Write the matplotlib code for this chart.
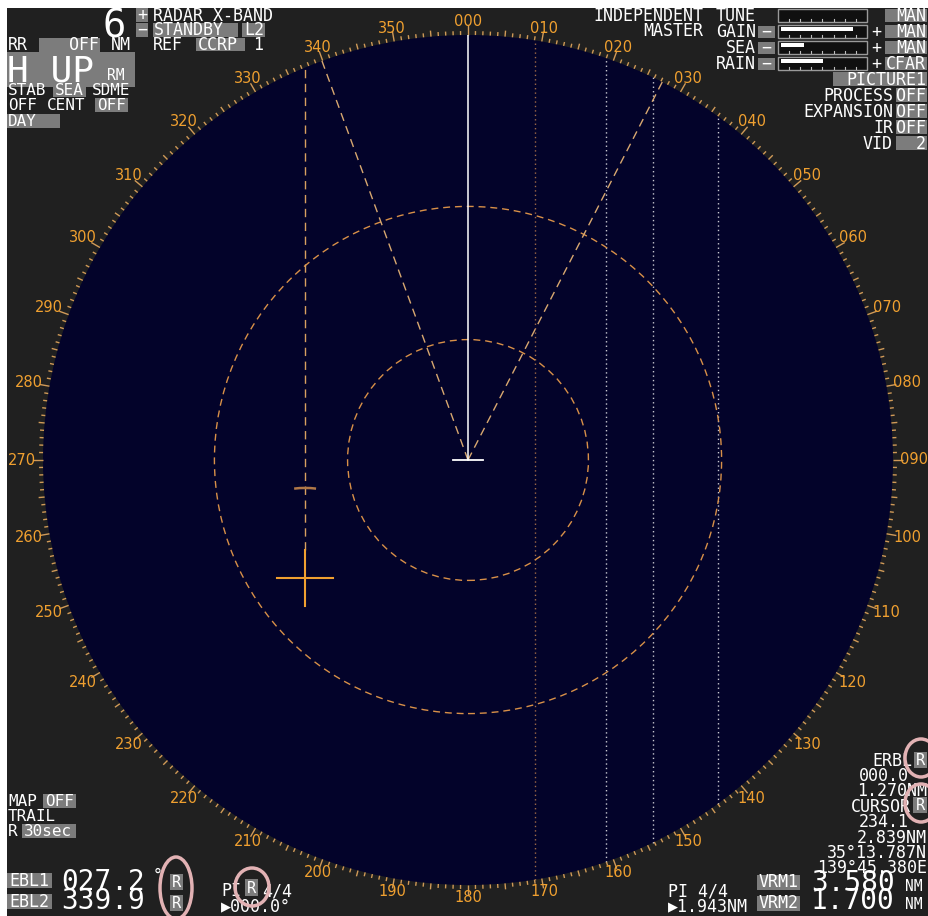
import numpy as np
import matplotlib
matplotlib.use("Agg")
import matplotlib.pyplot as plt
from matplotlib.patches import Rectangle, Circle, Ellipse, Arc
from matplotlib.collections import LineCollection

# ---------------- data ----------------
RANGE_NM = 6.0
heading_deg = 0.0
ebl_deg = [27.2, 339.9]
vrm_nm = [3.580, 1.700]
cursor_brg, cursor_rng = 234.1, 2.839
erbl_brg, erbl_rng = 0.0, 1.270
pi_offsets_nm = [0.95, 1.943, 2.61, 3.53]
pi_colors = ["#a06a48", "#c8c8d0", "#c8c8d0", "#c8c8d0"]
bearing_ticks = list(range(0, 360, 10))
bearing_labels = [f"{d:03d}" for d in bearing_ticks]
bar_names = ["TUNE", "GAIN", "SEA", "RAIN"]
bar_levels = [0.0, 0.84, 0.27, 0.49]
bar_modes = ["MAN", "MAN", "MAN", "CFAR"]
menu_names = ["PROCESS", "EXPANSION", "IR", "VID"]
menu_values = ["OFF", "OFF", "OFF", "2"]

# ---------------- layout ----------------
W, H = 929, 916
CX, CY, RPX = 468, 460, 425
PX = RANGE_NM / RPX  # NM per pixel

FONT = ["DejaVu Sans Mono", "DejaVu Sans"]
FS = 12
GRAY = "#7c7c7c"
PANEL = "#202020"
NAVY = "#03032a"
ORANGE = "#f0a030"
PINK = "#e2b2b4"

fig = plt.figure(figsize=(W / 100, H / 100), dpi=100, facecolor="white")
ax = fig.add_axes([0, 0, 1, 1])
ax.set_xlim(0, W)
ax.set_ylim(H, 0)
ax.axis("off")
ax.add_patch(Rectangle((7, 8), W - 7, H - 8, fc=PANEL, ec="none", zorder=0))

rax = fig.add_axes([(CX - RPX) / W, (H - CY - RPX) / H, 2 * RPX / W, 2 * RPX / H], zorder=2)
rax.set_xlim(-RANGE_NM, RANGE_NM)
rax.set_ylim(-RANGE_NM, RANGE_NM)
rax.axis("off")


def pol(brg, r):
    a = np.deg2rad(brg)
    return r * np.sin(a), r * np.cos(a)


# scope
rax.add_patch(Circle((0, 0), RANGE_NM, fc=NAVY, ec="none", zorder=0))

# bearing scale ticks
segs = []
for d in range(360):
    ln = 10 if d % 10 == 0 else (6 if d % 5 == 0 else 4)
    segs.append([pol(d, RANGE_NM), pol(d, RANGE_NM + ln * PX)])
rax.add_collection(LineCollection(segs, colors="#d09a58", linewidths=1.0, clip_on=False, zorder=3))

for d, lab in zip(bearing_ticks, bearing_labels):
    a = np.deg2rad(d)
    r = (433 + 13.5 * np.sin(a) ** 2 + 5 * np.cos(a) ** 2) * PX
    x, y = pol(d, r)
    rax.text(x, y, lab, ha="center", va="center", color=ORANGE, fontsize=10.5,
             family="DejaVu Sans", clip_on=False)

# parallel index lines
for off, c in zip(pi_offsets_nm, pi_colors):
    h = np.sqrt(RANGE_NM ** 2 - off ** 2)
    rax.plot([off, off], [-h, h], color=c, lw=1.0, ls=(0, (1, 2.2)), zorder=2)

# VRM rings
for r in vrm_nm:
    rax.add_patch(Circle((0, 0), r, fill=False, ec="#d89048", lw=1.0, ls=(0, (5, 3.5)), zorder=3))

# EBLs
for b in ebl_deg:
    x, y = pol(b, RANGE_NM)
    rax.plot([0, x], [0, y], color="#d8a870", lw=1.0, ls=(0, (6, 4)), zorder=3)

# heading line
hx, hy = pol(heading_deg, RANGE_NM)
rax.plot([0, hx], [0, hy], color="white", lw=1.1, zorder=4)
rax.plot([-15 * PX, 15 * PX], [0, 0], color="white", lw=1.3, zorder=4)

# cursor and ERBL
ccx, ccy = pol(cursor_brg, cursor_rng)
arm = 28 * PX
rax.plot([ccx - arm, ccx + arm], [ccy, ccy], color=ORANGE, lw=1.5, zorder=5)
rax.plot([ccx, ccx], [ccy - arm, ccy + arm], color=ORANGE, lw=1.5, zorder=5)
ey = np.sqrt(RANGE_NM ** 2 - ccx ** 2)
rax.plot([ccx, ccx], [ccy + arm, ey], color="#d8a060", lw=1.0, ls=(0, (6, 4)), zorder=4)
rax.add_patch(Arc((ccx, ccy), 2 * erbl_rng, 2 * erbl_rng, theta1=90 - 7, theta2=90 + 7,
                  color="#b07848", lw=1.8, zorder=5))


# ---------------- panel text ----------------
def t(x, y, s, size=FS, ha="left", color="white", **kw):
    ax.text(x, y, s, fontsize=size, ha=ha, va="baseline", color=color, family=FONT, zorder=6, **kw)


def box(x0, y0, x1, y1, fc=GRAY):
    ax.add_patch(Rectangle((x0, y0), x1 - x0, y1 - y0, fc=fc, ec="none", zorder=5))


# top left
t(103, 37, "6", size=28)
box(136, 8, 148, 22); t(142, 20, "+", ha="center", size=12)
box(136, 23, 148, 37); t(142, 35, "−", ha="center", size=12)
t(153, 21, "RADAR X-BAND")
box(153, 23, 238, 37); t(154, 35, "STANDBY")
box(242, 23, 265, 37); t(244, 35, "L2")
t(153, 50, "REF")
box(196, 38, 245, 51); t(198, 50, "CCRP")
t(253, 50, "1")
t(8, 50, "RR")
box(39, 38, 100, 52); t(99, 50, "OFF", ha="right")
t(111, 50, "NM")
box(7, 52, 135, 87)
t(7, 81, "H UP", size=26)
t(107, 80, "RM", size=10.5)
t(8, 95, "STAB", size=11.5)
box(53, 83, 86, 97); t(55, 95, "SEA", size=11.5)
t(92, 95, "SDME", size=11.5)
t(8, 110, "OFF", size=11.5)
t(47, 110, "CENT", size=11.5)
box(95, 98, 128, 112); t(97, 110, "OFF", size=11.5)
box(7, 114, 60, 128); t(8, 126, "DAY", size=11.5)

# top right
t(703, 21, "INDEPENDENT", ha="right")
t(703, 36, "MASTER", ha="right")
rows_y = [21, 37, 53, 69]
for name, lvl, mode, yb in zip(bar_names, bar_levels, bar_modes, rows_y):
    t(756, yb, name, ha="right")
    y0 = yb - 12
    if name != "TUNE":
        box(758, y0 + 1, 775, y0 + 13)
        t(766.5, yb, "−", ha="center")
        t(876, yb, "+", ha="center")
    ax.add_patch(Rectangle((778, y0), 89, 13, fc="#101010", ec="#9a9a9a", lw=1.0, zorder=5))
    for k in range(1, 8):
        xk = 778 + k * 89 / 8
        ax.plot([xk, xk], [y0 + 10, y0 + 12], color="#bdbdbd", lw=0.8, zorder=6)
    if lvl > 0:
        ax.add_patch(Rectangle((781, y0 + 2), lvl * 86, 4, fc="white", ec="none", zorder=6))
    box(885, y0, 927, y0 + 13)
    t(926, yb, mode, ha="right")
box(833, 72, 927, 86); t(926, 85, "PICTURE1", ha="right")
for lab, yb, val in zip(menu_names, [101, 117, 133, 149], menu_values):
    t(893, yb, lab, ha="right")
    box(896, yb - 13, 927, yb + 1)
    t(926, yb, val, ha="right")

# bottom left
t(8, 806, "MAP", size=11.5)
box(43, 794, 76, 808); t(45, 806, "OFF", size=11.5)
t(8, 821, "TRAIL", size=11.5)
t(8, 836, "R", size=11.5)
box(22, 824, 76, 838); t(24, 836, "30sec", size=11.5)
box(7, 873, 52, 888); t(9, 886, "EBL1")
box(7, 894, 52, 909); t(9, 907, "EBL2")
t(61, 890, "027.2", size=20)
t(61, 909, "339.9", size=20)
t(153, 881, "°", size=12)
box(170, 874, 183, 890); t(176.5, 887, "R", ha="center", size=11)
box(170, 895, 183, 911); t(176.5, 908, "R", ha="center", size=11)
ax.add_patch(Ellipse((176, 888), 32, 62, fill=False, ec=PINK, lw=2.5, zorder=7))
t(221, 896, "PI")
box(245, 879, 258, 896); t(251.5, 893, "R", ha="center", size=11)
t(262, 896, "4/4")
ax.add_patch(Ellipse((252, 887), 34, 38, fill=False, ec=PINK, lw=2.5, zorder=7))
t(221, 911, "▶000.0°")

# bottom right
t(912, 766, "ERBL", ha="right")
box(914, 752, 927, 768); t(920.5, 765, "R", ha="center", size=11)
t(859, 781, "000.0")
t(927, 796, "1.270NM", ha="right")
t(911, 812, "CURSOR", ha="right")
box(913, 797, 927, 813); t(920, 810, "R", ha="center", size=11)
t(859, 827, "234.1")
t(927, 843, "2.839NM", ha="right")
t(927, 858, "35°13.787N", ha="right")
t(927, 873, "139°45.380E", ha="right")
ax.add_patch(Ellipse((921, 758), 32, 38, fill=False, ec=PINK, lw=2.5, zorder=7))
ax.add_patch(Ellipse((921, 803), 32, 38, fill=False, ec=PINK, lw=2.5, zorder=7))
t(668, 896, "PI 4/4")
t(668, 911, "▶1.943NM")
box(757, 875, 800, 890); t(759, 887, "VRM1")
box(757, 896, 800, 911); t(759, 908, "VRM2")
t(811, 891, "3.580", size=20)
t(811, 909, "1.700", size=20)
t(905, 891, "NM", size=10.5)
t(905, 909, "NM", size=10.5)

fig.savefig("out.png", dpi=100, facecolor="white")
